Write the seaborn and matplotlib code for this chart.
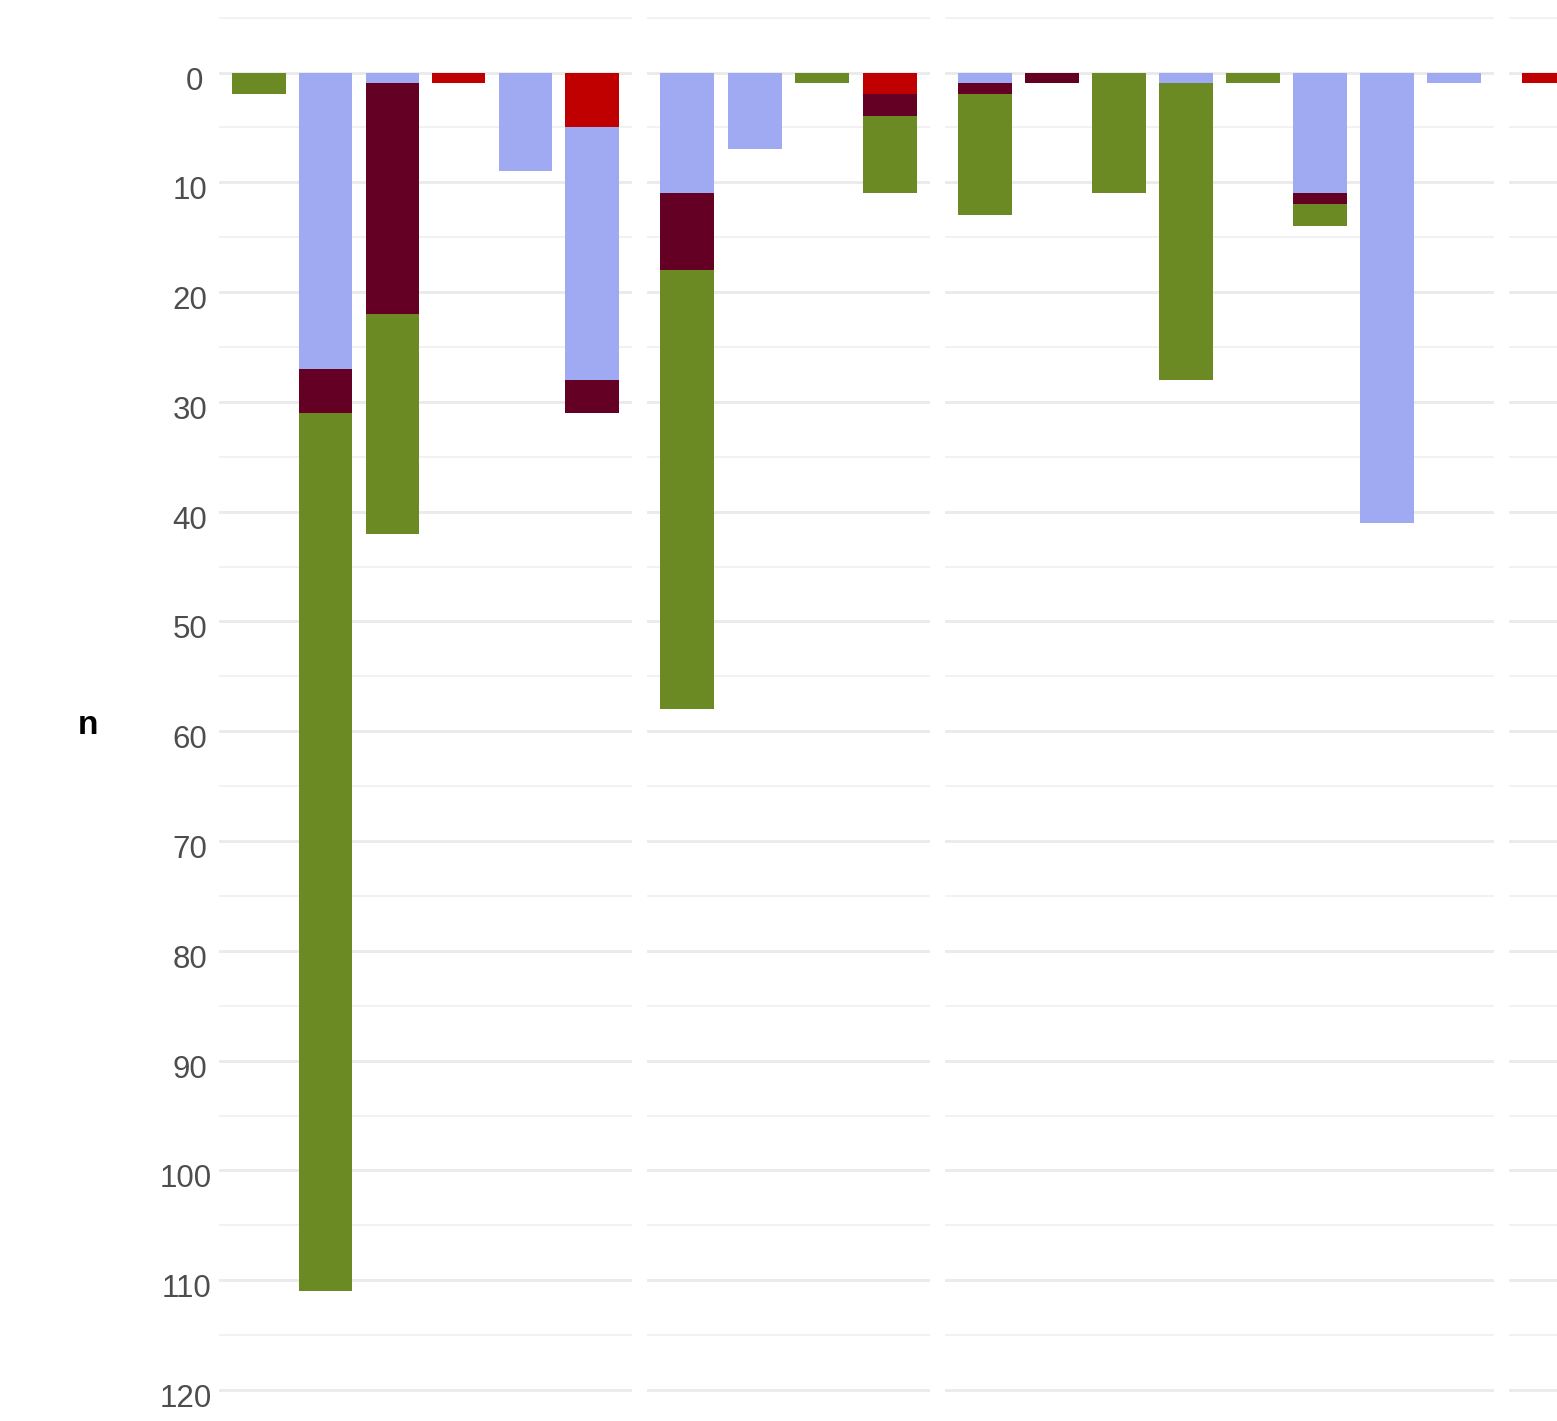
import numpy as np
import pandas as pd
import matplotlib
matplotlib.use("Agg")
import matplotlib.pyplot as plt
import seaborn as sns
from matplotlib.ticker import MultipleLocator
from matplotlib.transforms import ScaledTranslation

# ---------------- data ----------------
series = ["Red", "Blue", "Maroon", "Green"]
palette = {"Red": "#C00000", "Blue": "#A0AAF2", "Maroon": "#640024", "Green": "#6B8A23"}

p1_red = [0, 0, 0, 1, 0, 5]
p1_blue = [0, 27, 1, 0, 9, 23]
p1_maroon = [0, 4, 21, 0, 0, 3]
p1_green = [2, 80, 20, 0, 0, 0]

p2_red = [0, 0, 0, 2]
p2_blue = [11, 7, 0, 0]
p2_maroon = [7, 0, 0, 2]
p2_green = [40, 0, 1, 7]

p3_red = [0, 0, 0, 0, 0, 0, 0, 0]
p3_blue = [1, 0, 0, 1, 0, 11, 41, 1]
p3_maroon = [1, 1, 0, 0, 0, 1, 0, 0]
p3_green = [11, 0, 11, 27, 1, 2, 0, 0]

p4_red = [1]
p4_blue = [0]
p4_maroon = [0]
p4_green = [0]

y_ticks = [0, 10, 20, 30, 40, 50, 60, 70, 80, 90, 100, 110, 120]

panels = [
    (p1_red, p1_blue, p1_maroon, p1_green),
    (p2_red, p2_blue, p2_maroon, p2_green),
    (p3_red, p3_blue, p3_maroon, p3_green),
    (p4_red, p4_blue, p4_maroon, p4_green),
]

# ---------------- layout ----------------
W, H, DPI = 1557, 1421, 100
sns.set_theme(style="white")
plt.rcParams['font.family'] = ['Liberation Sans', 'DejaVu Sans']

fig = plt.figure(figsize=(W / DPI, H / DPI), dpi=DPI)

panel_px = [(219, 413), (647, 283), (945, 549), (1509, 80.4)]
y_top_val = -72.5 / 10.979
y_bot_val = (H - 72.5) / 10.979

axes = []
for i, (vals, (x0, wpx)) in enumerate(zip(panels, panel_px)):
    ax = fig.add_axes([x0 / W, 0, wpx / W, 1])
    rows = []
    for s, v in zip(series, vals):
        for b, n in enumerate(v, start=1):
            rows.append({"bar": b, "series": s, "n": n})
    df = pd.DataFrame(rows)
    nbars = len(vals[0])
    ax.set_axisbelow(True)
    sns.histplot(data=df, x="bar", weights="n", hue="series",
                 hue_order=["Green", "Maroon", "Blue", "Red"],
                 palette=palette, multiple="stack", discrete=True,
                 shrink=0.8, alpha=1, linewidth=0, edgecolor="none",
                 legend=False, ax=ax)
    ax.set_xlim(0.4, nbars + 0.6)
    ax.set_ylim(y_bot_val, y_top_val)
    ax.yaxis.set_major_locator(MultipleLocator(10))
    ax.yaxis.set_minor_locator(MultipleLocator(5))
    ax.grid(which="major", axis="y", color="#EBEBEB", linewidth=2.1)
    ax.grid(which="minor", axis="y", color="#F2F2F2", linewidth=1.4)
    ax.grid(which="major", axis="x", visible=False)
    for sp in ax.spines.values():
        sp.set_visible(False)
    ax.set_xticks([])
    ax.set_xlabel("")
    ax.tick_params(axis="y", which="both", length=0)
    if i == 0:
        ax.set_yticks(y_ticks)
        ax.set_yticklabels([str(t) for t in y_ticks])
        ax.set_ylim(y_bot_val, y_top_val)
        ax.tick_params(axis="y", labelsize=22.5, labelcolor="#4D4D4D", pad=14.6)
        ax.set_ylabel("n", rotation=0, fontsize=24, fontweight="bold",
                      color="black", ha="center", va="center")
        ax.yaxis.set_label_coords((87.5 - 219) / 413, 1 - 725 / H)
    else:
        ax.set_yticklabels([])
        ax.set_ylabel("")
    axes.append(ax)

# emulate ggplot hjust ~0.75 and baseline placement of the y tick labels
fig.canvas.draw()
ax0 = axes[0]
for tick in ax0.yaxis.get_major_ticks():
    lab = tick.label1
    w = lab.get_window_extent().width
    lab.set_transform(lab.get_transform() +
                      ScaledTranslation(0.25 * w / DPI, -5.5 / DPI, fig.dpi_scale_trans))

fig.savefig("out.png", dpi=DPI)
